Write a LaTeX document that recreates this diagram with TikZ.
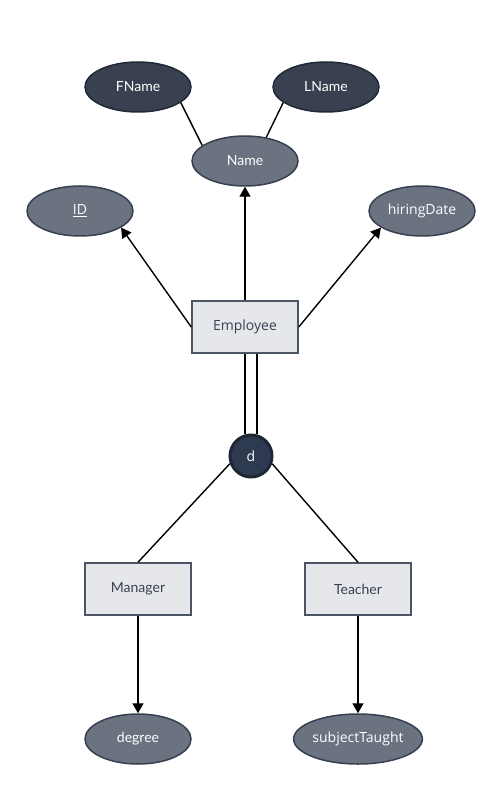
\documentclass[tikz,border=0pt]{standalone}
\usepackage{fontspec}
\setmainfont{Lato}
\newfontfamily\osans{Open Sans}
\usetikzlibrary{shapes.geometric,arrows.meta}
\definecolor{attrfill}{HTML}{6B7280}
\definecolor{attrline}{HTML}{374151}
\definecolor{subfill}{HTML}{394150}
\definecolor{subline}{HTML}{1F2937}
\definecolor{entfill}{HTML}{E5E7EB}
\definecolor{entline}{HTML}{4B5563}
\definecolor{enttext}{HTML}{374151}
\definecolor{disjfill}{HTML}{2E3A4F}
\definecolor{disjline}{HTML}{1E2736}
\begin{document}
\begin{tikzpicture}[x=1pt, y=-1pt, line width=1.4pt,
    attr/.style={ellipse, draw=attrline, fill=attrfill, line width=1.5pt, minimum width=106pt, minimum height=50pt, inner sep=0pt, text=white, font=\fontsize{14}{17}\selectfont},
    subattr/.style={attr, draw=subline, fill=subfill},
    entity/.style={rectangle, draw=entline, fill=entfill, line width=1.5pt, minimum width=106pt, minimum height=52pt, text=enttext, font=\fontsize{14}{17}\selectfont},
    disj/.style={circle, draw=disjline, fill=disjfill, line width=3pt, minimum size=42pt, inner sep=0pt, text=white},
    osans/.style={font=\osans\fontsize{14}{17}\selectfont},
    arr/.style={-{Triangle[length=10pt,width=11pt]}}]
    \useasboundingbox (0,0) rectangle (495,791);
    \node at (138,87) [subattr] (FName) {FName};
    \node at (326,87) [subattr] (LName) {LName};
    \node at (245,161) [attr] (Name) {Name};
    \node at (80,211) [attr, osans] (ID) {\underline{ID}};
    \node at (422,211) [attr, osans] (hiringDate) {hiringDate};
    \node at (245,327) [entity, osans] (Employee) {Employee};
    \node at (251,456) [disj, osans] (d) {d};
    \node at (138,589) [entity] (Manager) {Manager};
    \node at (358,589) [entity] (Teacher) {Teacher};
    \node at (138,739) [attr] (degree) {degree};
    \node at (358,739) [attr, osans] (subjectTaught) {subjectTaught};
    \draw (FName.-20) -- (Name.160);
    \draw (LName.200) -- (Name.48);
    \draw[arr] (Employee.north) -- (Name.south);
    \draw[arr] (Employee.west) -- (ID.-22);
    \draw[arr] (Employee.east) -- (hiringDate.202);
    \foreach \s in {-6,6}
        \draw ([xshift=\s pt]Employee.south -| d) -- ([xshift=\s pt]d.north);
    \draw (d.200) -- (Manager.north);
    \draw (d.340) -- (Teacher.north);
    \draw[arr] (Manager.south) -- (degree.north);
    \draw[arr] (Teacher.south) -- (subjectTaught.north);
\end{tikzpicture}
\end{document}
